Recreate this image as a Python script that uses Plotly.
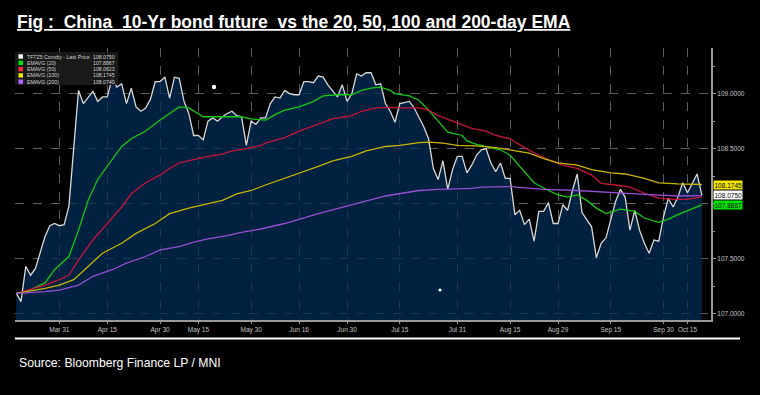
import pandas as pd
import plotly.graph_objects as go

# ---------------- data ----------------
holidays = ["2025-04-04", "2025-05-01", "2025-05-02", "2025-05-05", "2025-06-02",
            "2025-10-01", "2025-10-02", "2025-10-03", "2025-10-06", "2025-10-07", "2025-10-08"]
dates = [d.strftime("%Y-%m-%d") for d in pd.bdate_range("2025-03-18", "2025-10-20")
         if d.strftime("%Y-%m-%d") not in holidays]

price = [107.19, 107.11, 107.43, 107.35, 107.41, 107.55, 107.70, 107.80, 107.82, 107.80,
         107.81, 107.98, 108.50, 109.03, 108.91, 108.97, 109.02, 108.93, 108.97, 108.97,
         109.14, 109.06, 109.09, 108.91, 109.05, 108.88, 108.84, 108.87, 108.95, 109.11,
         109.11, 109.15, 108.96, 109.15, 109.14, 108.93, 108.82, 108.62, 108.62, 108.58,
         108.75, 108.78, 108.75, 108.79, 108.82, 108.84, 108.80, 108.79, 108.53, 108.75,
         108.72, 108.78, 108.78, 108.91, 108.97, 108.96, 109.03, 109.00, 108.99, 108.99,
         109.11, 109.11, 109.10, 109.16, 109.15, 109.08, 109.02, 108.97, 109.08, 108.93,
         109.00, 109.18, 109.16, 109.19, 109.19, 109.08, 109.09, 108.91, 108.84, 108.74,
         108.91, 108.92, 108.93, 108.87, 108.79, 108.70, 108.59, 108.32, 108.22, 108.39,
         108.13, 108.31, 108.43, 108.43, 108.28, 108.35, 108.44, 108.49, 108.50, 108.37,
         108.29, 108.37, 108.23, 108.23, 107.90, 107.94, 107.81, 107.86, 107.66, 107.93,
         107.93, 108.01, 107.82, 107.82, 107.99, 107.94, 108.12, 108.27, 107.92, 107.85,
         107.79, 107.51, 107.64, 107.69, 107.85, 108.02, 108.13, 108.06, 107.76, 107.94,
         107.76, 107.64, 107.55, 107.67, 107.66, 107.88, 108.05, 107.97, 108.06, 108.19,
         108.10, 108.18, 108.27, 108.075]

ema20_day = [0, 2, 6, 8, 9, 11, 13, 15, 17, 20, 22, 24, 27, 30, 32, 34, 36, 39, 43, 47, 49, 52,
             54, 56, 59, 62, 64, 67, 70, 72, 74, 76, 78, 79, 82, 84, 86, 88, 90, 93, 94, 96,
             98, 101, 103, 105, 107, 108, 111, 113, 115, 117, 119, 121, 123, 125, 126, 129,
             131, 134, 136, 138, 141, 143]
ema20_val = [107.185, 107.20, 107.28, 107.40, 107.44, 107.52, 107.76, 108.03, 108.22, 108.40,
             108.52, 108.59, 108.66, 108.76, 108.82, 108.88, 108.87, 108.79, 108.79, 108.79,
             108.77, 108.76, 108.81, 108.85, 108.88, 108.93, 108.98, 108.99, 108.99, 109.03,
             109.05, 109.06, 109.03, 109.00, 108.98, 108.94, 108.85, 108.75, 108.65, 108.62,
             108.57, 108.54, 108.52, 108.49, 108.44, 108.34, 108.23, 108.19, 108.12, 108.08,
             108.06, 108.08, 108.03, 107.96, 107.91, 107.94, 107.95, 107.93, 107.87, 107.83,
             107.86, 107.90, 107.95, 107.99]

ema50_day = [0, 6, 9, 11, 13, 16, 19, 22, 24, 27, 30, 32, 34, 37, 40, 43, 45, 48, 51, 52, 56,
             59, 63, 66, 70, 72, 75, 78, 81, 84, 86, 88, 91, 93, 95, 98, 100, 103, 106, 109,
             111, 114, 117, 120, 122, 125, 128, 131, 134, 137, 140, 143]
ema50_val = [107.185, 107.26, 107.31, 107.35, 107.49, 107.67, 107.82, 107.97, 108.09, 108.19,
             108.26, 108.32, 108.37, 108.40, 108.43, 108.45, 108.48, 108.50, 108.53, 108.55,
             108.60, 108.66, 108.72, 108.77, 108.80, 108.84, 108.87, 108.875, 108.87, 108.87,
             108.85, 108.80, 108.75, 108.72, 108.685, 108.66, 108.62, 108.59, 108.51, 108.44,
             108.40, 108.35, 108.32, 108.26, 108.185, 108.17, 108.15, 108.095, 108.05, 108.04,
             108.04, 108.0623]

ema100_day = [0, 6, 9, 12, 15, 18, 22, 25, 29, 32, 36, 39, 43, 46, 49, 52, 56, 59, 63, 66, 70,
              73, 77, 80, 84, 86, 89, 92, 96, 100, 103, 107, 110, 113, 117, 120, 124, 127, 131,
              134, 138, 143]
ema100_val = [107.185, 107.23, 107.26, 107.31, 107.43, 107.55, 107.64, 107.73, 107.82, 107.91,
              107.96, 107.99, 108.03, 108.09, 108.12, 108.17, 108.23, 108.28, 108.34, 108.39,
              108.43, 108.48, 108.52, 108.53, 108.555, 108.56, 108.55, 108.53, 108.525, 108.51,
              108.49, 108.46, 108.41, 108.37, 108.35, 108.31, 108.28, 108.27, 108.23, 108.19,
              108.18, 108.1745]

ema200_day = [0, 6, 9, 13, 16, 20, 23, 27, 30, 34, 37, 40, 44, 47, 51, 56, 63, 70, 77, 84, 88,
              95, 97, 103, 110, 117, 124, 131, 138, 143]
ema200_val = [107.185, 107.20, 107.215, 107.26, 107.34, 107.40, 107.46, 107.52, 107.58, 107.61,
              107.65, 107.68, 107.71, 107.74, 107.77, 107.82, 107.91, 107.99, 108.07, 108.12,
              108.13, 108.14, 108.15, 108.155, 108.13, 108.12, 108.10, 108.085, 108.07, 108.074]

tick_dates = ["2025-03-31", "2025-04-15", "2025-04-30", "2025-05-15", "2025-05-30", "2025-06-16",
              "2025-06-30", "2025-07-15", "2025-07-31", "2025-08-15", "2025-08-29", "2025-09-15",
              "2025-09-30", "2025-10-15"]
tick_labels = ["Mar 31", "Apr 15", "Apr 30", "May 15", "May 30", "Jun 16", "Jun 30", "Jul 15",
               "Jul 31", "Aug 15", "Aug 29", "Sep 15", "Sep 30", "Oct 15"]

y_tick_vals = [107.0, 107.5, 108.0, 108.5, 109.0]
y_tick_text = ["107.0000", "107.5000", "", "108.5000", "109.0000"]  # 108.0000 is hidden by value tags

legend_names = ["TFTZ5 Comdty - Last Price", "EMAVG (20)", "EMAVG (50)", "EMAVG (100)", "EMAVG (200)"]
legend_values = ["108.0750", "107.8867", "108.0623", "108.1745", "108.0740"]
legend_colors = ["#ffffff", "#00e400", "#ff2a3c", "#f2e600", "#b266ff"]

title_text = "Fig :  China  10-Yr bond future  vs the 20, 50, 100 and 200-day EMA"
source_text = "Source: Bloomberg Finance LP / MNI"

# ---------------- figure ----------------
W, H = 760, 395
L, R, T, B = 15, 711, 48, 320


def px(x):
    return (x - L) / (R - L)


def py(y):
    return (B - y) / (B - T)


fig = go.Figure()
fig.add_trace(go.Scatter(x=dates, y=price, mode="lines", fill="tozeroy",
                         fillcolor="rgba(2,44,88,0.74)",
                         line=dict(color="#d8d8d8", width=1.3), showlegend=False))
line_specs = [(ema20_day, ema20_val, "#14c814"), (ema50_day, ema50_val, "#c8143a"),
              (ema100_day, ema100_val, "#c8b400"), (ema200_day, ema200_val, "#9650d2")]
for days, vals, col in line_specs:
    fig.add_trace(go.Scatter(x=[dates[i] for i in days], y=vals, mode="lines",
                             line=dict(color=col, width=1.3), showlegend=False))

small = "Liberation Sans Narrow, Arial Narrow, Liberation Sans"
tickfont = dict(family=small, size=6.5, color="#c4c4c4")
fig.update_xaxes(type="category", categoryorder="array", categoryarray=dates,
                 range=[-0.25, 144.9], tickmode="array", tickvals=tick_dates, ticktext=tick_labels,
                 showgrid=True, gridcolor="#5e5e5e", griddash="dash", gridwidth=1,
                 showline=True, linecolor="#9a9a9a", linewidth=2, ticks="outside", ticklen=2,
                 tickcolor="#9a9a9a", tickfont=tickfont, zeroline=False)
fig.update_yaxes(side="right", range=[106.943, 109.415], tickmode="array", tickvals=y_tick_vals,
                 ticktext=y_tick_text,
                 showgrid=True, gridcolor="#5e5e5e", griddash="dash", gridwidth=1,
                 showline=True, linecolor="#9a9a9a", linewidth=2, ticks="outside", ticklen=3,
                 tickcolor="#9a9a9a", tickfont=tickfont, zeroline=False,
                 minor=dict(dtick=0.25, tick0=107, ticks="outside", ticklen=2, tickcolor="#9a9a9a",
                            showgrid=False))

shapes = []
annotations = []

# title / source / separator
annotations.append(dict(text="<b><u>" + title_text + "</u></b>", x=px(15), y=py(22), xref="paper",
                        yref="paper", xanchor="left", yanchor="middle", showarrow=False,
                        font=dict(family="Liberation Sans", size=17.5, color="#ffffff")))
annotations.append(dict(text=source_text, x=px(17), y=py(363), xref="paper", yref="paper",
                        xanchor="left", yanchor="middle", showarrow=False,
                        font=dict(family=small, size=12.2, color="#ffffff")))
shapes.append(dict(type="line", xref="paper", yref="paper", x0=px(15), x1=px(740),
                   y0=py(338.5), y1=py(338.5), line=dict(color="#ffffff", width=2)))

# legend box
shapes.append(dict(type="rect", xref="paper", yref="paper", x0=px(15), x1=px(118),
                   y0=py(52), y1=py(85), fillcolor="rgba(28,28,30,0.88)", line=dict(width=0)))
row_y = [56.5, 62.8, 69.1, 75.4, 81.7]
for name, val, col, yy in zip(legend_names, legend_values, legend_colors, row_y):
    shapes.append(dict(type="rect", xref="paper", yref="paper", x0=px(18.5), x1=px(23),
                       y0=py(yy + 2.2), y1=py(yy - 2.2), fillcolor=col, line=dict(width=0)))
    annotations.append(dict(text=name, x=px(25), y=py(yy), xref="paper", yref="paper",
                            xanchor="left", yanchor="middle", showarrow=False,
                            font=dict(family=small, size=5.2, color="#d0d0d0")))
    annotations.append(dict(text=val, x=px(117), y=py(yy), xref="paper", yref="paper",
                            xanchor="right", yanchor="middle", showarrow=False,
                            font=dict(family=small, size=5.2, color="#d0d0d0")))

# right-side value tags
tags = [(legend_values[3], ema100_val[-1], "#f2e600"), (legend_values[0], price[-1], "#ffffff"),
        (legend_values[1], ema20_val[-1], "#00e400")]
for txt, yv, col in tags:
    annotations.append(dict(text=txt, x=px(713), y=yv, xref="paper", yref="y", xanchor="left",
                            yanchor="middle", showarrow=False, bgcolor=col, borderpad=0.5,
                            font=dict(family=small, size=6.5, color="#000000")))

# stray white dots from the source image
for cx, cy, r in [(214, 87, 2.2), (440, 290, 1.6)]:
    shapes.append(dict(type="circle", xref="paper", yref="paper", xsizemode="pixel",
                       ysizemode="pixel", xanchor=px(cx), yanchor=py(cy), x0=-r, x1=r, y0=-r, y1=r,
                       fillcolor="#ffffff", line=dict(width=0)))

fig.update_layout(width=W, height=H, margin=dict(l=L, r=W - R, t=T, b=H - B),
                  paper_bgcolor="#000000", plot_bgcolor="#000000", showlegend=False,
                  hovermode=False, shapes=shapes, annotations=annotations)

fig.write_html("out.html", config={"displayModeBar": False},
               post_script="document.body.style.margin='0';document.body.style.background='#000';")
